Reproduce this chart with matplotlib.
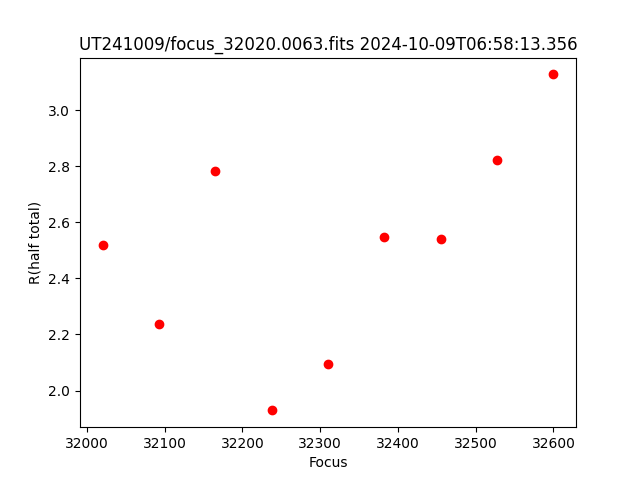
import matplotlib
matplotlib.use("Agg")
from matplotlib import pyplot as plt

# focus positions and measured half-total radius
focus = [32020, 32092.5, 32165, 32237.5, 32310, 32382.5, 32455, 32527.5, 32600]
r_half = [2.521, 2.236, 2.782, 1.929, 2.093, 2.546, 2.539, 2.821, 3.128]

plt.figure(figsize=(6.4, 4.8), dpi=100)
plt.plot(focus, r_half, 'ro')
plt.xlabel('Focus')
plt.ylabel('R(half total)')
plt.title('UT241009/focus_32020.0063.fits 2024-10-09T06:58:13.356')
plt.savefig('out.png')
